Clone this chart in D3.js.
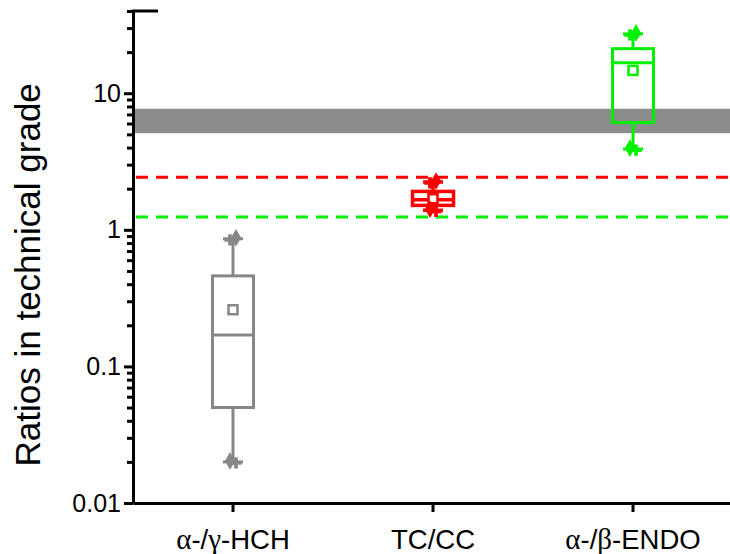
<!DOCTYPE html>
<html>
<head>
<meta charset="utf-8">
<script src="https://cdn.jsdelivr.net/npm/d3@7"></script>
<style>
  body { margin: 0; background: #fff; }
  text { font-family: "Liberation Sans", Arial, sans-serif; }
</style>
</head>
<body>
<div id="container"></div>
<script>
// categories and box statistics
var categories = ["α-/γ-HCH", "TC/CC", "α-/β-ENDO"];
var labelParts = [
  [["α", true], ["-/", false], ["γ", true], ["-HCH", false]],
  [["TC/CC", false]],
  [["α", true], ["-/", false], ["β", true], ["-ENDO", false]]
];
var whiskerLow  = [0.02, 1.39, 3.9];
var q1          = [0.05, 1.51, 6.1];
var median      = [0.17, 1.66, 16.7];
var q3          = [0.46, 1.91, 21.2];
var whiskerHigh = [0.86, 2.24, 27.2];
var mean        = [0.26, 1.69, 14.7];
var colors = ["#878787", "#ff0000", "#00f000"];

// reference lines and band
var redLine = 2.43;
var greenLine = 1.24;
var band = [5.1, 7.7];

var majorTicks = [0.01, 0.1, 1, 10];

var w = 730, h = 554;
var margin = {top: 11, left: 133, bottom: 51};

var svg = d3.select("div#container")
  .append("svg")
  .attr("width", w)
  .attr("height", h);

var x = d3.scaleBand()
  .domain(categories)
  .range([margin.left, margin.left + 600]);

var y = d3.scaleLog()
  .domain([0.01, 40])
  .range([h - margin.bottom, margin.top]);

// grey band
svg.append("rect")
  .attr("x", margin.left)
  .attr("width", w - margin.left)
  .attr("y", y(band[1]))
  .attr("height", y(band[0]) - y(band[1]))
  .attr("fill", "#8c8c8c");

// dashed reference lines
[[redLine, "#ff0000"], [greenLine, "#00f000"]].forEach(function(d) {
  svg.append("line")
    .attr("x1", margin.left + 3)
    .attr("x2", w)
    .attr("y1", y(d[0]))
    .attr("y2", y(d[0]))
    .attr("stroke", d[1])
    .attr("stroke-width", 3)
    .attr("stroke-dasharray", "12,8");
});

// boxes
var boxW = 41;
categories.forEach(function(c, i) {
  var cx = x(c) + x.bandwidth() / 2;
  var g = svg.append("g")
    .attr("stroke", colors[i])
    .attr("fill", "none")
    .attr("stroke-width", i == 1 ? 3.5 : 3);

  g.append("line")
    .attr("x1", cx).attr("x2", cx)
    .attr("y1", y(whiskerHigh[i])).attr("y2", y(q3[i]));
  g.append("line")
    .attr("x1", cx).attr("x2", cx)
    .attr("y1", y(q1[i])).attr("y2", y(whiskerLow[i]));

  [whiskerHigh[i], whiskerLow[i]].forEach(function(v) {
    g.append("line")
      .attr("x1", cx - 10).attr("x2", cx + 10)
      .attr("y1", y(v)).attr("y2", y(v));
  });

  g.append("rect")
    .attr("x", cx - boxW / 2)
    .attr("width", boxW)
    .attr("y", y(q3[i]))
    .attr("height", y(q1[i]) - y(q3[i]));

  g.append("line")
    .attr("x1", cx - boxW / 2).attr("x2", cx + boxW / 2)
    .attr("y1", y(median[i])).attr("y2", y(median[i]));

  g.append("rect")
    .attr("x", cx - 4.5).attr("width", 9)
    .attr("y", y(mean[i]) - 4.5).attr("height", 9)
    .attr("fill", "#fff")
    .attr("stroke-width", 2.5);

  // data points at whisker ends
  [whiskerHigh[i], whiskerLow[i]].forEach(function(v, k) {
    svg.append("path")
      .attr("d", d3.symbol(d3.symbolDiamond, 90)())
      .attr("transform", "translate(" + (cx + (k ? -3 : 3)) + "," + (y(v) - 1) + ")")
      .attr("fill", colors[i]);
    svg.append("path")
      .attr("d", d3.symbol(d3.symbolCross, 70)())
      .attr("transform", "translate(" + (cx + (k ? 3 : -3)) + "," + (y(v) + 1) + ")")
      .attr("fill", colors[i]);
  });
});

// y axis: minor ticks
var minorTicks = [];
[0.01, 0.1, 1, 10].forEach(function(d) {
  for (var k = 2; k <= 9; k++) if (d * k <= 40) minorTicks.push(d * k);
});

svg.append("g")
  .attr("transform", "translate(" + margin.left + ",0)")
  .call(d3.axisLeft(y).tickValues(minorTicks).tickSize(6).tickFormat(""))
  .call(function(g) { g.select(".domain").remove(); })
  .selectAll("line").attr("stroke-width", 3);

var yAxis = svg.append("g")
  .attr("transform", "translate(" + margin.left + ",0)")
  .call(d3.axisLeft(y).tickValues(majorTicks).tickSize(9).tickSizeOuter(0)
    .tickPadding(3).tickFormat(d3.format("~g")));
yAxis.select(".domain").attr("stroke-width", 3);
yAxis.selectAll("line").attr("stroke-width", 3);
yAxis.selectAll("text")
  .attr("font-size", 25)
  .attr("fill", "#000")
  .attr("font-family", "Liberation Sans, Arial, sans-serif");

// top cap of the y axis
svg.append("line")
  .attr("x1", margin.left - 1.5).attr("x2", margin.left + 25)
  .attr("y1", y(40)).attr("y2", y(40))
  .attr("stroke", "#000").attr("stroke-width", 3);

// x axis
var xAxis = svg.append("g")
  .attr("transform", "translate(0," + y(0.01) + ")")
  .call(d3.axisBottom(x).tickSize(9).tickSizeOuter(0).tickFormat(""));
xAxis.select(".domain").attr("stroke-width", 3);
xAxis.selectAll("line").attr("stroke-width", 3);

categories.forEach(function(c, i) {
  var t = svg.append("text")
    .attr("x", x(c) + x.bandwidth() / 2)
    .attr("y", 549)
    .attr("text-anchor", "middle")
    .attr("font-size", 27.5)
    .attr("fill", "#000");
  labelParts[i].forEach(function(p) {
    t.append("tspan")
      .attr("font-family", p[1] ? "Liberation Serif, Times New Roman, serif" : null)
      .attr("font-size", p[1] ? 29 : null)
      .text(p[0]);
  });
});

// y label
svg.append("text")
  .attr("transform", "translate(40," + (y(1) + 45) + ") rotate(-90)")
  .attr("text-anchor", "middle")
  .attr("font-size", 35)
  .attr("fill", "#000")
  .text("Ratios in technical grade");
</script>
</body>
</html>
